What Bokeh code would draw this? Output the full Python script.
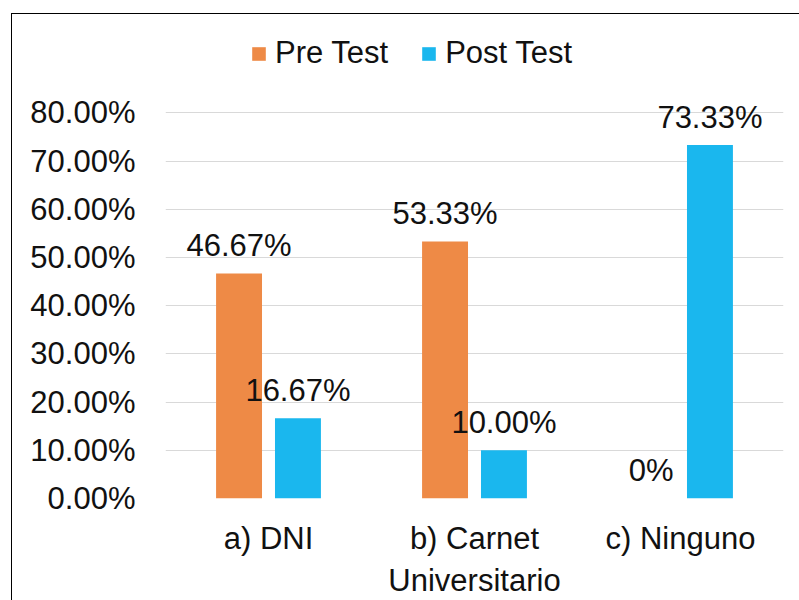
from bokeh.plotting import figure
from bokeh.models import (ColumnDataSource, FactorRange, FixedTicker, NumeralTickFormatter,
                          Legend, LegendItem, InlineStyleSheet)
from bokeh.transform import dodge
from bokeh.core.properties import value
from bokeh.embed import file_html
from bokeh.resources import INLINE

categories = ["a) DNI", "b) Carnet\nUniversitario", "c) Ninguno"]
pre_test = [0.4667, 0.5333, 0.0]
post_test = [0.1667, 0.10, 0.7333]
pre_labels = ["46.67%", "53.33%", "0%"]
post_labels = ["16.67%", "10.00%", "73.33%"]
y_ticks = [0.0, 0.1, 0.2, 0.3, 0.4, 0.5, 0.6, 0.7, 0.8]

ORANGE = "#EE8A46"
BLUE = "#1AB7EE"
FONT = "Liberation Sans"
TXT = "#111111"

src = ColumnDataSource(dict(cat=categories, pre=pre_test, post=post_test,
                            pre_lbl=pre_labels, post_lbl=post_labels))

border_css = InlineStyleSheet(css="""
:host { position: relative; }
:host::after {
  content: "";
  position: absolute;
  left: 11px; top: 13px; right: 0px; bottom: 0px;
  border-left: 1px solid #000;
  border-top: 1px solid #000;
  pointer-events: none;
}
""")

p = figure(width=799, height=600, output_backend="svg", toolbar_location=None,
           x_range=FactorRange(*categories, range_padding=0), y_range=(0, 1.0),
           min_border_left=165, min_border_right=16, min_border_top=16, min_border_bottom=102,
           stylesheets=[border_css])

p.outline_line_color = None
p.background_fill_color = "white"
p.border_fill_color = "white"

r_pre = p.vbar(x=dodge("cat", -0.143, range=p.x_range), top="pre", width=0.223,
               source=src, color=ORANGE, line_color=None)
r_post = p.vbar(x=dodge("cat", 0.143, range=p.x_range), top="post", width=0.223,
                source=src, color=BLUE, line_color=None)

p.text(x=dodge("cat", -0.143, range=p.x_range), y="pre", text="pre_lbl", source=src,
       text_align="center", text_baseline="middle", y_offset=-28,
       text_font=value(FONT), text_font_size="31px", text_color=TXT)
p.text(x=dodge("cat", 0.143, range=p.x_range), y="post", text="post_lbl", source=src,
       text_align="center", text_baseline="middle", y_offset=-28,
       text_font=value(FONT), text_font_size="31px", text_color=TXT)

p.xgrid.grid_line_color = None
p.ygrid.grid_line_color = "#D9D9D9"
p.ygrid.grid_line_width = 1
p.ygrid.ticker = FixedTicker(ticks=y_ticks)

p.yaxis.ticker = FixedTicker(ticks=y_ticks)
p.yaxis.formatter = NumeralTickFormatter(format="0.00%")
for ax in (p.xaxis, p.yaxis):
    ax.axis_line_color = None
    ax.major_tick_line_color = None
    ax.minor_tick_line_color = None
    ax.major_tick_out = 0
    ax.major_tick_in = 0
    ax.major_label_text_font = FONT
    ax.major_label_text_font_size = "31px"
    ax.major_label_text_color = TXT
p.yaxis.major_label_standoff = 30
p.xaxis.major_label_standoff = 22

legend = Legend(items=[LegendItem(label="Pre Test", renderers=[r_pre]),
                       LegendItem(label="Post Test", renderers=[r_post])],
                orientation="horizontal", location=(85, 427),
                label_text_font=FONT, label_text_font_size="31px", label_text_color=TXT,
                glyph_width=17, glyph_height=17, label_standoff=8, spacing=32,
                padding=0, margin=0, border_line_color=None, background_fill_alpha=0)
p.add_layout(legend, "center")

open("out.html", "w").write(file_html(p, INLINE))
